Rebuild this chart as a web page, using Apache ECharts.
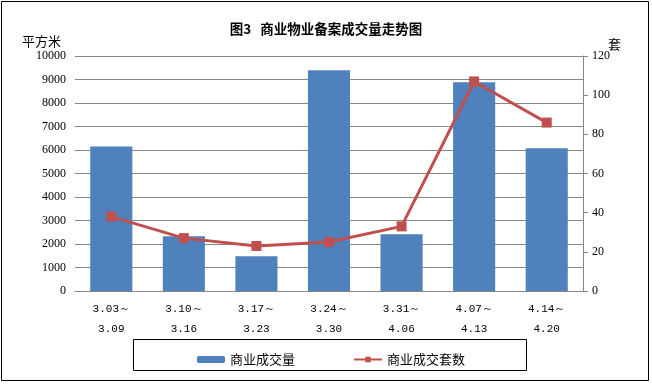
<!DOCTYPE html>
<html><head><meta charset="utf-8">
<script src="https://cdn.jsdelivr.net/npm/echarts@6/dist/echarts.min.js"></script>
<style>html,body{margin:0;padding:0;background:#fff}#c{width:652px;height:386px}</style>
</head><body><div id="c"></div>
<script>
const categories = ['3.03～\n3.09','3.10～\n3.16','3.17～\n3.23','3.24～\n3.30','3.31～\n4.06','4.07～\n4.13','4.14～\n4.20'];
const areaValues = [6150, 2330, 1480, 9390, 2410, 8880, 6070];
const unitValues = [38, 27, 23, 25, 33, 107, 86];
const seriesNames = ['商业成交量', '商业成交套数'];
const titleText = '图3   商业物业备案成交量走势图';

const font = '"Liberation Serif","DejaVu Serif",serif';
const mono = '"Liberation Mono","DejaVu Sans Mono",monospace';
const cjk = '"Noto Sans CJK SC","Noto Sans",sans-serif';
const chart = echarts.init(document.getElementById('c'));
chart.setOption({
  animation: false,
  backgroundColor: '#fff',
  title: { text: titleText, left: 'center', top: 17, textStyle: { fontFamily: cjk, fontSize: 13.5, fontWeight: 'bold', color: '#000' } },
  grid: { left: 75, right: 69, top: 56, bottom: 95 },
  legend: {
    data: seriesNames, left: 192, top: 348, itemWidth: 28, itemHeight: 7, itemGap: 58,
    textStyle: { fontFamily: cjk, fontSize: 13, color: '#000' }
  },
  xAxis: {
    type: 'category', data: categories,
    axisLine: { lineStyle: { color: '#868686' } }, axisTick: { show: false },
    axisLabel: { color: '#000', fontFamily: mono, fontSize: 11, lineHeight: 20, margin: 8 }
  },
  yAxis: [
    { type: 'value', min: 0, max: 10000, interval: 1000,
      axisLine: { show: false }, axisTick: { show: false },
      splitLine: { lineStyle: { color: '#868686' } },
      axisLabel: { color: '#000', fontFamily: font, fontSize: 12, margin: 9, formatter: v => String(v) } },
    { type: 'value', min: 0, max: 120, interval: 20,
      axisLine: { show: true, lineStyle: { color: '#868686' } },
      axisTick: { show: true, length: 5, lineStyle: { color: '#868686' } },
      splitLine: { show: false },
      axisLabel: { color: '#000', fontFamily: font, fontSize: 12, margin: 9 } }
  ],
  series: [
    { name: seriesNames[0], type: 'bar', data: areaValues, barWidth: '58%', itemStyle: { color: '#4F81BD' } },
    { name: seriesNames[1], type: 'line', yAxisIndex: 1, data: unitValues,
      symbol: 'rect', symbolSize: 10, lineStyle: { color: '#C0504D', width: 3 },
      itemStyle: { color: '#C0504D' } }
  ],
  graphic: [
    { type: 'rect', shape: { x: 1.5, y: 1.5, width: 647, height: 379 }, style: { fill: 'none', stroke: '#000', lineWidth: 1 }, silent: true, z: -1 },
    { type: 'rect', shape: { x: 133.5, y: 339.5, width: 393, height: 31 }, style: { fill: 'none', stroke: '#000', lineWidth: 1 }, silent: true },
    { type: 'text', left: 22, top: 35, style: { text: '平方米', font: '13px ' + cjk, fill: '#000' } },
    { type: 'text', left: 608, top: 38, style: { text: '套', font: '13px ' + cjk, fill: '#000' } }
  ]
});
</script></body></html>
